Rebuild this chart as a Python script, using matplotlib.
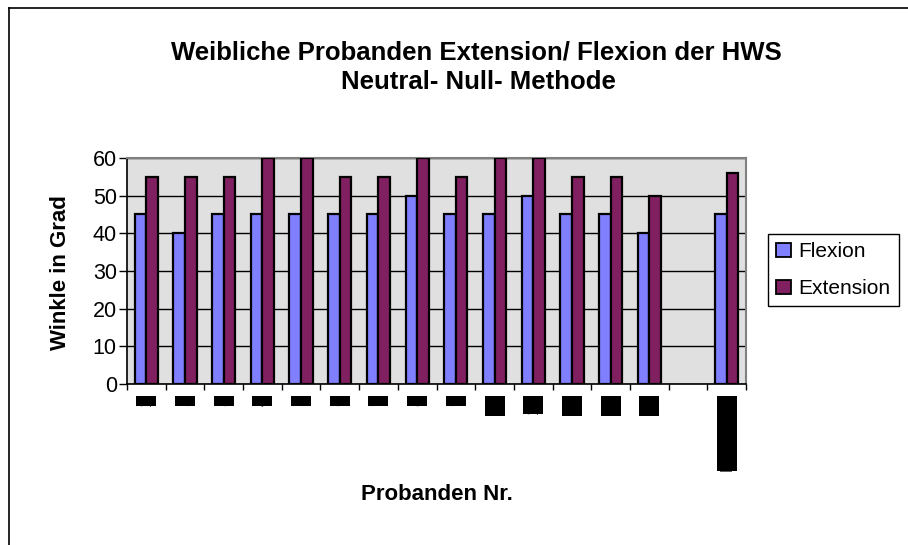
import matplotlib
matplotlib.use('Agg')
import matplotlib.pyplot as plt
import numpy as np
from matplotlib.lines import Line2D
from matplotlib.patches import Patch
from matplotlib.path import Path

categories = ['1', '2', '3', '4', '5', '6', '7', '8', '9', '10', '11', '12', '13', '14', '', 'Mittelwert']
flexion = [45, 40, 45, 45, 45, 45, 45, 50, 45, 45, 50, 45, 45, 40, np.nan, 45]
extension = [55, 55, 55, 60, 60, 55, 55, 60, 55, 60, 60, 55, 55, 50, np.nan, 56]
y_ticks = [0, 10, 20, 30, 40, 50, 60]
series_names = ['Flexion', 'Extension']
colors = ['#8080FF', '#802060']

FONT = 'Liberation Sans'
W, H = 908, 545
fig = plt.figure(figsize=(W / 100, H / 100), dpi=100)


def px(x0, y0, x1, y1):
    return [x0 / W, 1 - y1 / H, (x1 - x0) / W, (y1 - y0) / H]


ax = fig.add_axes(px(127, 158, 746, 384))
ax.set_facecolor('#E0E0E0')
x = np.arange(len(categories))
bw = 0.30
ax.bar(x - bw / 2, flexion, bw, color=colors[0], edgecolor='black', linewidth=1.6, zorder=3)
ax.bar(x + bw / 2, extension, bw, color=colors[1], edgecolor='black', linewidth=1.6, zorder=3)
ax.set_xlim(-0.5, len(categories) - 0.5)
ax.set_ylim(0, 60)
ax.set_yticks(y_ticks)
ax.yaxis.grid(True, color='black', linewidth=1.0, zorder=1)
ax.set_axisbelow(True)
for s in ['top', 'right']:
    ax.spines[s].set_color('#808080')
    ax.spines[s].set_linewidth(1.5)
for s in ['left', 'bottom']:
    ax.spines[s].set_color('black')
    ax.spines[s].set_linewidth(1.2)

ax.tick_params(axis='y', direction='out', length=5.8, width=1, pad=1.5, labelsize=15.5)
for lbl in ax.get_yticklabels():
    lbl.set_family(FONT)


def label_box(x0, y0, width, height, mutation_size):
    # pad only across the (rotated) text so each label becomes a 20 px wide block
    py = max((20.0 - height) / 2.0, 0.0)
    pxx = 0.3
    verts = [(x0 - pxx, y0 - py), (x0 + width + pxx, y0 - py),
             (x0 + width + pxx, y0 + height + py), (x0 - pxx, y0 + height + py),
             (x0 - pxx, y0 - py)]
    return Path(verts, [Path.MOVETO, Path.LINETO, Path.LINETO, Path.LINETO, Path.CLOSEPOLY])


ax.set_xticks(x, categories, rotation=90)
ax.set_xticks(np.arange(-0.5, len(categories), 1), minor=True)
ax.tick_params(axis='x', which='major', length=0, pad=8.6)
ax.tick_params(axis='x', which='minor', direction='out', length=4, width=1)
for lbl in ax.get_xticklabels():
    lbl.set_family(FONT)
    lbl.set_fontsize(12.6)
    lbl.set_color('black')
    if lbl.get_text():
        lbl.set_bbox(dict(boxstyle=label_box, facecolor='black', edgecolor='none'))

fig.text(476 / W, 1 - 52 / H, 'Weibliche Probanden Extension/ Flexion der HWS',
         ha='center', va='center', fontsize=18.5, fontweight='bold', family=FONT)
fig.text(478 / W, 1 - 82 / H, 'Neutral- Null- Methode',
         ha='center', va='center', fontsize=18.5, fontweight='bold', family=FONT)
fig.text(60 / W, 1 - 273 / H, 'Winkle in Grad', rotation=90,
         ha='center', va='center', fontsize=16, fontweight='bold', family=FONT)
fig.text(437 / W, 1 - 495 / H, 'Probanden Nr.',
         ha='center', va='center', fontsize=16, fontweight='bold', family=FONT)

handles = [Patch(facecolor=c, edgecolor='black', linewidth=1.3) for c in colors]
leg = fig.legend(handles, series_names, loc='upper left',
                 bbox_to_anchor=(768 / W, 1 - 234 / H), fancybox=False,
                 edgecolor='black', framealpha=1, borderaxespad=0,
                 prop={'family': FONT, 'size': 15},
                 handlelength=0.72, handleheight=0.67, handletextpad=0.34,
                 labelspacing=0.85, borderpad=0.4)
leg.get_frame().set_linewidth(1.0)

fig.add_artist(Line2D([9 / W, 9 / W], [0, 1 - 8 / H], color='black', linewidth=1.2))
fig.add_artist(Line2D([9 / W, 1], [1 - 8 / H, 1 - 8 / H], color='black', linewidth=1.2))

fig.savefig('out.png', dpi=100)
